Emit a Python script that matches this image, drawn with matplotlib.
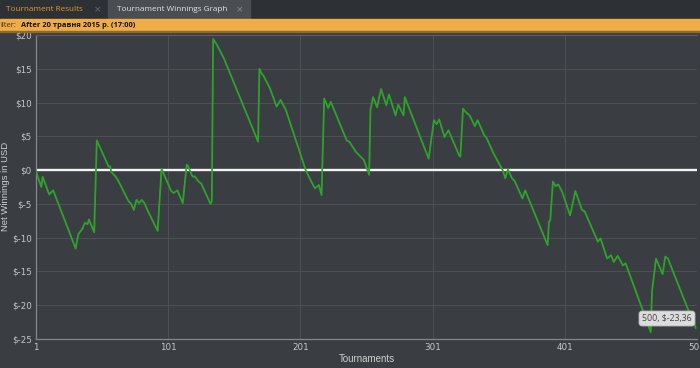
import matplotlib
matplotlib.use("Agg")
import matplotlib.pyplot as plt
from matplotlib.patches import Rectangle, FancyBboxPatch

# turning points of the winnings line
tournaments = [1, 5, 6, 11, 14, 31, 33, 36, 38, 40, 41, 45, 47, 56, 57, 58, 61, 63,
               71, 73, 75, 77, 79, 81, 83, 86, 93, 96, 103, 105, 108, 112, 115, 116,
               119, 120, 121, 124, 126, 133, 134, 135, 138, 139, 143, 169, 170, 172,
               173, 178, 183, 186, 190, 205, 209, 212, 215, 217, 219, 222, 224, 236,
               238, 243, 249, 253, 254, 256, 259, 262, 266, 268, 273, 275, 279, 280,
               298, 302, 304, 306, 310, 313, 321, 322, 324, 326, 329, 333, 335, 340,
               342, 347, 354, 356, 358, 361, 363, 369, 371, 388, 389, 390, 392, 394,
               396, 399, 405, 409, 414, 416, 426, 428, 433, 436, 438, 441, 445, 447,
               466, 467, 470, 475, 477, 479, 494, 499, 500]
winnings = [-0.2, -2.5, -1.0, -3.6, -3.0, -11.6, -9.5, -8.7, -7.8, -8.0, -7.3, -9.2,
            4.4, 0.5, 0.6, -0.3, -0.9, -1.5, -4.6, -5.0, -5.9, -4.4, -4.9, -4.4, -4.9,
            -6.2, -9.0, 0.2, -3.0, -3.4, -3.0, -4.9, 0.8, 0.6, -0.8, -1.0, -0.9, -1.7,
            -2.0, -5.0, -4.6, 19.4, 18.5, 18.1, 16.6, 4.2, 15.0, 14.2, 14.0, 12.1, 9.4,
            10.4, 8.9, 0.0, -1.6, -2.7, -2.2, -3.7, 10.6, 9.2, 10.1, 4.4, 4.2, 2.7, 1.5,
            -0.7, 8.9, 10.8, 9.3, 12.0, 9.6, 11.2, 8.1, 9.7, 8.1, 10.8, 1.7, 7.4, 6.8,
            7.5, 4.9, 5.9, 2.2, 2.0, 9.1, 8.6, 8.1, 6.5, 7.4, 5.2, 4.7, 2.5, 0.0, -1.2,
            0.1, -1.2, -1.6, -4.2, -3.0, -11.1, -7.7, -7.4, -1.7, -2.4, -2.1, -3.2, -6.7,
            -3.1, -5.9, -6.1, -10.6, -10.1, -13.1, -12.6, -13.6, -12.7, -14.1, -13.8,
            -24.0, -17.9, -13.1, -15.4, -12.8, -13.1, -20.5, -22.7, -23.36]

y_ticks = [20, 15, 10, 5, 0, -5, -10, -15, -20, -25]
x_ticks = [1, 101, 201, 301, 401, 501]
tab_labels = ["Tournament Results", "Tournament Winnings Graph"]
filter_text = "After 20 травня 2015 р. (17:00)"
tooltip_text = "500, $-23,36"

W, H = 700, 368
fig = plt.figure(figsize=(W / 100, H / 100), dpi=100, facecolor="#3a3d41")

# chrome layer in pixel coordinates
bg = fig.add_axes([0, 0, 1, 1])
bg.set_xlim(0, W)
bg.set_ylim(H, 0)
bg.axis("off")
bg.add_patch(Rectangle((0, 0), W, 19, color="#2d3034"))
bg.add_patch(Rectangle((108, 0), 142, 19, color="#4a4d52"))
bg.text(6, 9.5, tab_labels[0], color="#e39a2e", fontsize=5.9, va="center",
        family="Open Sans")
bg.text(94, 9.5, "×", color="#6a6d70", fontsize=6.5, va="center")
bg.text(117, 9.5, tab_labels[1], color="#e6e6e6", fontsize=5.9, va="center",
        family="Open Sans")
bg.text(236, 9.5, "×", color="#8a8d90", fontsize=6.5, va="center")
bg.add_patch(Rectangle((0, 19), W, 12, color="#f0ad45"))
bg.add_patch(Rectangle((0, 31), W, 1, color="#8a6a35"))
bg.text(0, 25.5, "ilter:", color="#3a3020", fontsize=5.5, va="center",
        family="Open Sans")
bg.text(21, 25.5, filter_text, color="#111111", fontsize=5.4, va="center",
        family="Open Sans", fontweight="bold")

# plot area
ax = fig.add_axes([36 / W, (H - 339) / H, (697 - 36) / W, (339 - 35) / H])
ax.set_facecolor("#3a3d41")
ax.set_xlim(1, 501)
ax.set_ylim(-25, 20)
ax.set_yticks(y_ticks)
ax.set_yticklabels(["$%d" % v for v in y_ticks])
ax.set_xticks(x_ticks)
ax.set_xticklabels([str(v) for v in x_ticks])
ax.grid(True, color="#4c4f53", linewidth=0.8)
ax.tick_params(length=0, colors="#c8c8c8", labelsize=6.3, pad=3)
for lab in ax.get_xticklabels() + ax.get_yticklabels():
    lab.set_family("DejaVu Sans")
for side in ["left", "bottom", "top", "right"]:
    ax.spines[side].set_color("#85888b")
    ax.spines[side].set_linewidth(0.9)
ax.spines["right"].set_visible(False)
ax.spines["top"].set_color("#5a5d61")

ax.axhline(0, color="#f4f4f4", linewidth=1.7, zorder=2)
ax.plot(tournaments, winnings, color="#2ea32c", linewidth=1.3, zorder=3)

ax.set_xlabel("Tournaments", color="#d0d0d0", fontsize=7, family="Liberation Sans",
              labelpad=1)

# hover tooltip
tip = FancyBboxPatch((639, 311), 56, 15, boxstyle="round,pad=0,rounding_size=3",
                     facecolor="#dcdcdc", edgecolor="#b5b5b5", linewidth=0.6,
                     zorder=5)
bg.add_patch(tip)
bg.set_zorder(5)
bg.patch.set_visible(False)
bg.text(667, 318.5, tooltip_text, color="#444444", fontsize=6.3, va="center",
        ha="center", family="Open Sans", zorder=6)
bg.text(5.5, 186, "Net Winnings in USD", color="#d0d0d0", fontsize=6.8,
        family="Liberation Sans", rotation=90, ha="center", va="center")

fig.savefig("out.png", dpi=100, facecolor=fig.get_facecolor())
